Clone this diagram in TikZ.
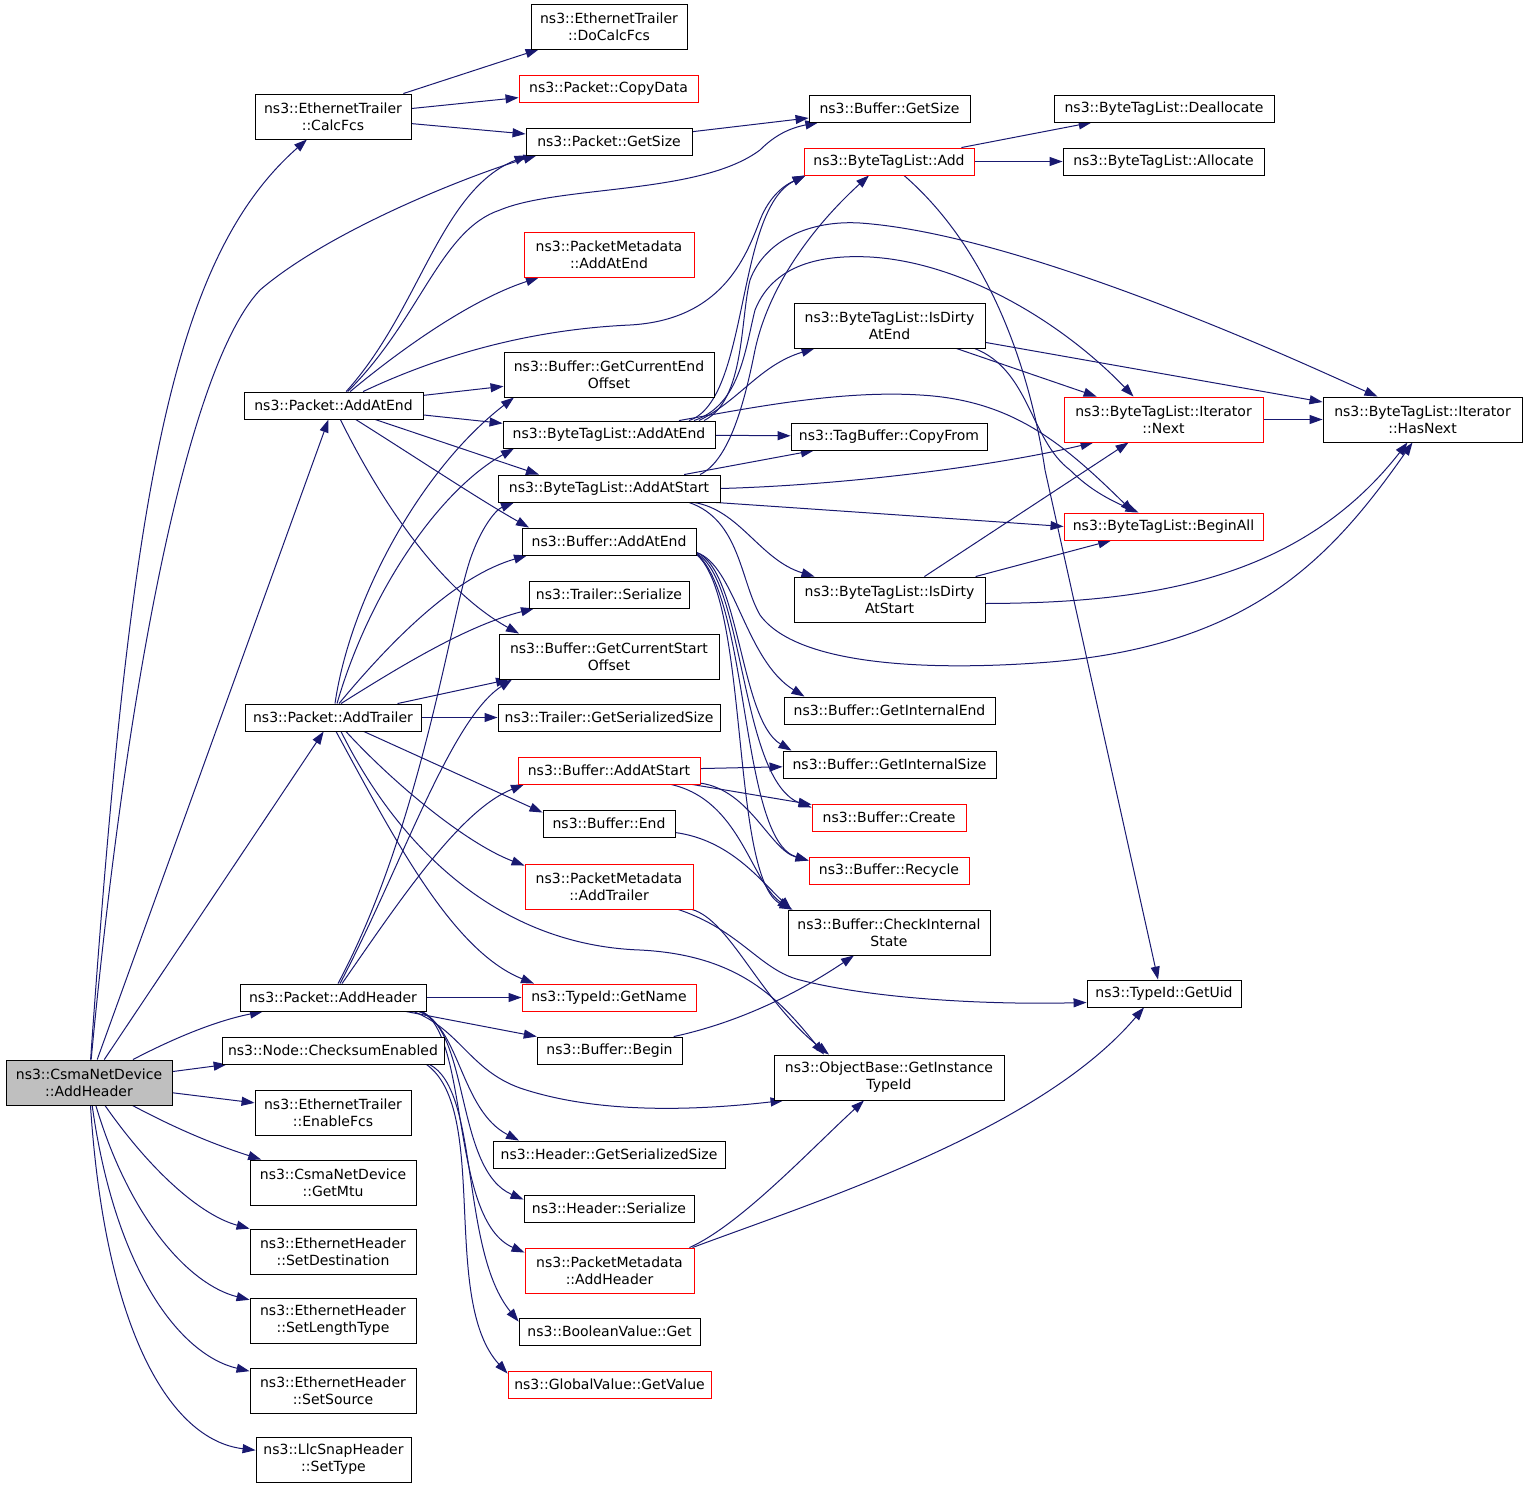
\documentclass[tikz,border=0pt]{standalone}
\usepackage{fontspec}
\setmainfont{DejaVu Sans}
\usetikzlibrary{arrows.meta}
\definecolor{edgeblue}{RGB}{25,25,112}
\definecolor{rootgray}{RGB}{191,191,191}
\newcommand{\gfont}{\fontsize{14}{17}\selectfont}
\newcommand{\gnode}[7][plainbox]{\node[#1, minimum width={#5-#3}, minimum height={#6-#4}] (#2) at ({(#3+#5)/2},{(#4+#6)/2}) {#7};}
\pgfdeclarelayer{bg}
\pgfsetlayers{bg,main}
\tikzset{
  plainbox/.style={draw=black, fill=white, line width=0.9pt, inner sep=0pt, align=center, font=\gfont},
  redbox/.style={plainbox, draw=red},
  rootbox/.style={plainbox, fill=rootgray},
  cedge/.style={draw=edgeblue, line width=1pt, -{Triangle[length=13pt,width=9pt]}}
}
\begin{document}
\begin{tikzpicture}[x=1pt,y=-1pt]
\useasboundingbox (0,0) rectangle (1528,1488);
\gnode[rootbox]{n1}{6}{1060}{172}{1105}{ns3::CsmaNetDevice\\::AddHeader}
\gnode{n2}{531}{4}{687}{49}{ns3::EthernetTrailer\\::DoCalcFcs}
\gnode{n3}{255}{94}{411}{139}{ns3::EthernetTrailer\\::CalcFcs}
\gnode[redbox]{n4}{519}{75}{698}{102}{ns3::Packet::CopyData}
\gnode{n5}{526}{128}{692}{155}{ns3::Packet::GetSize}
\gnode{n6}{809}{95}{970}{122}{ns3::Buffer::GetSize}
\gnode{n7}{1054}{95}{1274}{122}{ns3::ByteTagList::Deallocate}
\gnode[redbox]{n8}{804}{148}{974}{175}{ns3::ByteTagList::Add}
\gnode{n9}{1063}{148}{1264}{175}{ns3::ByteTagList::Allocate}
\gnode[redbox]{n10}{524}{232}{694}{277}{ns3::PacketMetadata\\::AddAtEnd}
\gnode{n11}{794}{303}{985}{348}{ns3::ByteTagList::IsDirty\\AtEnd}
\gnode{n12}{504}{352}{714}{397}{ns3::Buffer::GetCurrentEnd\\Offset}
\gnode{n13}{244}{392}{423}{419}{ns3::Packet::AddAtEnd}
\gnode{n14}{503}{421}{715}{448}{ns3::ByteTagList::AddAtEnd}
\gnode{n15}{791}{423}{987}{450}{ns3::TagBuffer::CopyFrom}
\gnode[redbox]{n16}{1064}{397}{1263}{442}{ns3::ByteTagList::Iterator\\::Next}
\gnode{n17}{1323}{397}{1522}{442}{ns3::ByteTagList::Iterator\\::HasNext}
\gnode{n18}{498}{475}{720}{502}{ns3::ByteTagList::AddAtStart}
\gnode[redbox]{n19}{1064}{513}{1263}{540}{ns3::ByteTagList::BeginAll}
\gnode{n20}{522}{528}{696}{555}{ns3::Buffer::AddAtEnd}
\gnode{n21}{794}{577}{985}{622}{ns3::ByteTagList::IsDirty\\AtStart}
\gnode{n22}{529}{581}{689}{608}{ns3::Trailer::Serialize}
\gnode{n23}{499}{634}{719}{679}{ns3::Buffer::GetCurrentStart\\Offset}
\gnode{n24}{245}{704}{421}{731}{ns3::Packet::AddTrailer}
\gnode{n25}{498}{704}{720}{731}{ns3::Trailer::GetSerializedSize}
\gnode{n26}{784}{697}{995}{724}{ns3::Buffer::GetInternalEnd}
\gnode[redbox]{n27}{518}{757}{700}{784}{ns3::Buffer::AddAtStart}
\gnode{n28}{783}{751}{996}{778}{ns3::Buffer::GetInternalSize}
\gnode{n29}{543}{810}{675}{837}{ns3::Buffer::End}
\gnode[redbox]{n30}{812}{804}{966}{831}{ns3::Buffer::Create}
\gnode[redbox]{n31}{525}{864}{693}{909}{ns3::PacketMetadata\\::AddTrailer}
\gnode[redbox]{n32}{809}{857}{969}{884}{ns3::Buffer::Recycle}
\gnode{n33}{788}{910}{990}{955}{ns3::Buffer::CheckInternal\\State}
\gnode{n34}{240}{984}{426}{1011}{ns3::Packet::AddHeader}
\gnode[redbox]{n35}{522}{984}{696}{1011}{ns3::TypeId::GetName}
\gnode{n36}{1087}{980}{1241}{1007}{ns3::TypeId::GetUid}
\gnode{n37}{222}{1037}{444}{1064}{ns3::Node::ChecksumEnabled}
\gnode{n38}{537}{1037}{682}{1064}{ns3::Buffer::Begin}
\gnode{n39}{774}{1055}{1004}{1100}{ns3::ObjectBase::GetInstance\\TypeId}
\gnode{n40}{255}{1090}{411}{1135}{ns3::EthernetTrailer\\::EnableFcs}
\gnode{n41}{493}{1141}{725}{1168}{ns3::Header::GetSerializedSize}
\gnode{n42}{250}{1160}{416}{1205}{ns3::CsmaNetDevice\\::GetMtu}
\gnode{n43}{524}{1195}{694}{1222}{ns3::Header::Serialize}
\gnode{n44}{250}{1229}{416}{1274}{ns3::EthernetHeader\\::SetDestination}
\gnode[redbox]{n45}{525}{1248}{694}{1293}{ns3::PacketMetadata\\::AddHeader}
\gnode{n46}{250}{1298}{416}{1343}{ns3::EthernetHeader\\::SetLengthType}
\gnode{n47}{519}{1318}{700}{1345}{ns3::BooleanValue::Get}
\gnode{n48}{250}{1368}{416}{1413}{ns3::EthernetHeader\\::SetSource}
\gnode[redbox]{n49}{508}{1371}{711}{1398}{ns3::GlobalValue::GetValue}
\gnode{n50}{256}{1437}{411}{1482}{ns3::LlcSnapHeader\\::SetType}

\begin{pgfonlayer}{bg}
% root
\draw[cedge] (n1) .. controls (130,500) and (170,260) .. (n3);
\draw[cedge] (n1) .. controls (125,700) and (185,370) .. (260,290) .. controls (330,230) and (470,175) .. ([xshift=11pt]n5.south west);
\draw[cedge] (n1) -- (n13);
\draw[cedge] (n1) -- (n24);
\draw[cedge] (n1) .. controls (180,1035) and (220,1020) .. (n34);
\draw[cedge] (n1) -- (n37);
\draw[cedge] (n1) -- (n40);
\draw[cedge] (n1) .. controls (160,1120) and (200,1140) .. (n42);
\draw[cedge] (n1) .. controls (150,1170) and (200,1215) .. (n44);
\draw[cedge] (n1) .. controls (130,1220) and (190,1285) .. (n46);
\draw[cedge] (n1) .. controls (115,1270) and (180,1355) .. (n48);
\draw[cedge] (n1) .. controls (105,1330) and (170,1440) .. (n50);
% calcfcs
\draw[cedge] (n3) -- (n2);
\draw[cedge] (n3) -- (n4);
\draw[cedge] (n3) -- (n5);
\draw[cedge] (n5) -- (n6);
% Packet::AddAtEnd
\draw[cedge] (n13) .. controls (420,310) and (440,190) .. ([xshift=2pt]n5.south west);
\draw[cedge] (n13) .. controls (420,320) and (440,230) .. (500,210) .. controls (560,185) and (700,195) .. (760,150) .. controls (775,135) and (790,128) .. (n6);
\draw[cedge] (n13) .. controls (400,350) and (470,300) .. (n10);
\draw[cedge] (n13) .. controls (430,360) and (520,330) .. (630,325) .. controls (720,320) and (745,260) .. (760,220) .. controls (770,195) and (785,185) .. ([xshift=2pt]n8.south west);
\draw[cedge] (n13) -- (n12);
\draw[cedge] (n13) -- (n14);
\draw[cedge] (n13) -- ([xshift=-70pt]n18.north);
\draw[cedge] (n13) .. controls (420,460) and (480,500) .. ([xshift=-80pt]n20.north);
\draw[cedge] (n13) .. controls (380,500) and (440,590) .. ([xshift=-90pt]n23.north);
% ByteTagList::AddAtEnd
\draw[cedge] ([xshift=80pt]n14.north) .. controls (750,400) and (735,210) .. ([xshift=2pt]n8.south west);
\draw[cedge] ([xshift=90pt]n14.north) .. controls (740,400) and (760,365) .. ([xshift=-75pt]n11.south);
\draw[cedge] (n14) -- (n15);
\draw[cedge] ([xshift=85pt]n14.north) .. controls (740,405) and (745,350) .. (755,310) .. controls (775,260) and (830,255) .. (870,257) .. controls (960,262) and (1060,320) .. ([xshift=-30pt]n16.north);
\draw[cedge] ([xshift=95pt]n14.north) .. controls (745,400) and (740,320) .. (750,280) .. controls (765,240) and (810,220) .. (860,223) .. controls (960,230) and (1100,280) .. (1200,320) .. controls (1280,352) and (1340,380) .. ([xshift=-45pt]n17.north);
\draw[cedge] ([xshift=70pt]n14.north) .. controls (750,408) and (840,390) .. (920,395) .. controls (1010,400) and (1060,440) .. ([xshift=-30pt]n19.north);
% ByteTagList::AddAtStart
\draw[cedge] ([xshift=91pt]n18.north) .. controls (730,460) and (745,400) .. (755,350) .. controls (770,280) and (820,220) .. ([xshift=-20pt]n8.south);
\draw[cedge] (n18) -- (n15);
\draw[cedge] (n18.east) .. controls (850,485) and (1000,465) .. ([xshift=-70pt]n16.south);
\draw[cedge] ([xshift=80pt]n18.south) .. controls (740,520) and (740,580) .. (760,615) .. controls (800,670) and (950,670) .. (1050,662) .. controls (1250,645) and (1330,560) .. ([xshift=-10pt]n17.south);
\draw[cedge] ([xshift=-5pt]n18.south east) .. controls (900,515) and (1000,522) .. (n19.west);
\draw[cedge] ([xshift=85pt]n18.south) .. controls (740,510) and (760,560) .. ([xshift=-75pt]n21.north);
% IsDirtyAtEnd
\draw[cedge] (n11) -- (n16);
\draw[cedge] (n11) -- (n17);
\draw[cedge] ([xshift=85pt]n11.south) .. controls (1030,370) and (1030,440) .. (1070,470) .. controls (1090,490) and (1110,500) .. ([xshift=-25pt]n19.north);
% IsDirtyAtStart
\draw[cedge] (n21) -- (n16);
\draw[cedge] (n21) -- (n19);
\draw[cedge] ([yshift=-4pt]n21.east) .. controls (1150,603) and (1300,580) .. ([xshift=-15pt]n17.south);
\draw[cedge] (n16) -- (n17);
% ByteTagList::Add
\draw[cedge] (n8) -- (n7);
\draw[cedge] (n8) -- (n9);
\draw[cedge] ([xshift=15pt]n8.south) .. controls (990,250) and (1030,370) .. (1045,470) -- ([xshift=-6pt]n36.north);
% Buffer::AddAtEnd
\draw[cedge] ([yshift=3pt]n20.south east) .. controls (735,565) and (745,660) .. ([xshift=-85pt]n26.north);
\draw[cedge] ([yshift=3pt]n20.south east) .. controls (740,570) and (740,720) .. ([xshift=-98pt]n28.north);
\draw[cedge] ([yshift=2pt]n20.south east) .. controls (745,580) and (740,780) .. ([yshift=-4pt]n30.north west);
\draw[cedge] ([yshift=2pt]n20.south east) .. controls (750,600) and (740,840) .. ([yshift=-4pt]n32.north west);
\draw[cedge] ([yshift=1pt]n20.south east) .. controls (750,600) and (730,880) .. ([xshift=5pt]n33.north west);
% Buffer::AddAtStart
\draw[cedge] (n27) -- (n28);
\draw[cedge] (n27) -- (n30);
\draw[cedge] (n27) .. controls (750,790) and (770,850) .. ([yshift=-4pt]n32.north west);
\draw[cedge] (n27) .. controls (740,800) and (750,880) .. ([xshift=3pt]n33.north west);
% Buffer::End, Begin
\draw[cedge] (n29) .. controls (730,840) and (760,880) .. ([xshift=4pt]n33.north west);
\draw[cedge] (n38) .. controls (750,1020) and (810,985) .. ([xshift=-35pt]n33.south);
% PacketMetadata::AddTrailer
\draw[cedge] (n31) .. controls (730,920) and (760,1000) .. ([xshift=-60pt]n39.north);
\draw[cedge] (n31) .. controls (740,930) and (760,970) .. (800,980) .. controls (870,998) and (980,1005) .. ([yshift=-9pt]n36.west);
% Packet::AddTrailer
\draw[cedge] ([xshift=2pt]n24.north) .. controls (350,600) and (420,470) .. ([xshift=-95pt]n12.south);
\draw[cedge] ([xshift=4pt]n24.north) .. controls (370,590) and (440,490) .. ([xshift=-95pt]n14.south);
\draw[cedge] ([xshift=6pt]n24.north) .. controls (400,630) and (460,575) .. ([xshift=-82pt]n20.south);
\draw[cedge] ([xshift=8pt]n24.north) .. controls (410,660) and (470,625) .. ([xshift=-75pt]n22.south);
\draw[cedge] (n24) -- ([xshift=-100pt]n23.south);
\draw[cedge] (n24) -- (n25);
\draw[cedge] (n24) -- ([yshift=-3pt]n29.north west);
\draw[cedge] (n24) .. controls (400,790) and (470,845) .. ([yshift=-2pt]n31.north west);
\draw[cedge] ([xshift=3pt]n24.south) .. controls (390,830) and (450,950) .. ([xshift=-75pt]n35.north);
\draw[cedge] ([xshift=8pt]n24.south) .. controls (400,850) and (500,945) .. (640,950) .. controls (740,955) and (780,1000) .. ([xshift=-65pt]n39.north);
% Packet::AddHeader
\draw[cedge] ([xshift=5pt]n34.north) .. controls (420,830) and (450,620) .. (470,560) .. controls (480,530) and (495,510) .. ([xshift=-95pt]n18.south);
\draw[cedge] ([xshift=7pt]n34.north) .. controls (400,870) and (450,720) .. ([xshift=-97pt]n23.south);
\draw[cedge] ([xshift=9pt]n34.north) .. controls (400,900) and (460,810) .. ([xshift=-85pt]n27.south);
\draw[cedge] (n34) -- (n35);
\draw[cedge] (n34) -- (n38);
\draw[cedge] ([xshift=-13pt]n34.south east) .. controls (460,1030) and (470,1070) .. (520,1088) .. controls (600,1115) and (700,1110) .. ([xshift=10pt]n39.south west);
\draw[cedge] ([xshift=-8pt]n34.south east) .. controls (460,1025) and (460,1110) .. ([xshift=-90pt]n41.north);
\draw[cedge] ([xshift=-6pt]n34.south east) .. controls (470,1030) and (455,1170) .. ([yshift=-5pt]n43.north west);
\draw[cedge] ([xshift=-4pt]n34.south east) .. controls (470,1040) and (450,1220) .. ([yshift=-5pt]n45.north west);
% Node::ChecksumEnabled
\draw[cedge] ([xshift=-15pt]n37.south east) .. controls (480,1090) and (460,1250) .. ([yshift=-4pt]n47.north west);
\draw[cedge] ([xshift=-18pt]n37.south east) .. controls (490,1110) and (440,1300) .. ([yshift=-3pt]n49.north west);
% PacketMetadata::AddHeader
\draw[cedge] ([xshift=-5pt]n45.north east) .. controls (740,1225) and (810,1150) .. ([xshift=-25pt]n39.south);
\draw[cedge] ([xshift=-2pt]n45.north east) .. controls (820,1200) and (1040,1130) .. ([xshift=-20pt]n36.south);
\end{pgfonlayer}
\end{tikzpicture}
\end{document}
